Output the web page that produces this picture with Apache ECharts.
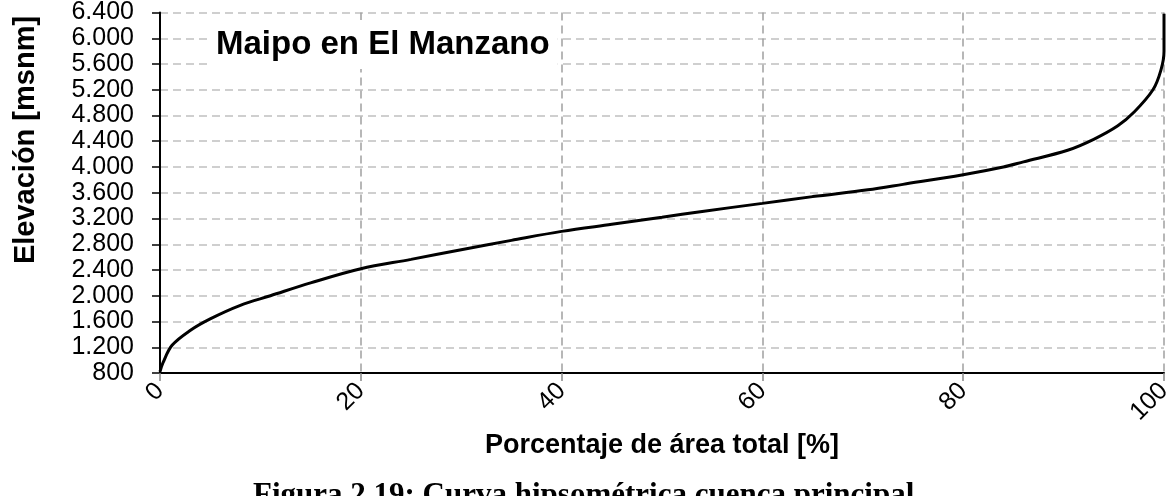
<!DOCTYPE html>
<html>
<head>
<meta charset="utf-8">
<script src="https://cdn.jsdelivr.net/npm/echarts@6/dist/echarts.min.js"></script>
<style>
  html, body { margin: 0; padding: 0; background: #fff; }
  #main { width: 1175px; height: 496px; }
</style>
</head>
<body>
<div id="main"></div>
<script>
// curva hipsometrica
var pctArea = [0, 0.3, 1.2, 3, 5, 8, 11, 15, 20, 25, 30, 35, 40, 45, 50, 54, 60, 65, 70.5, 74, 80, 84, 86, 90.4, 93, 95.4, 97, 98.9, 99.7, 100, 100];
var elevacion = [820, 960, 1230, 1460, 1640, 1850, 2000, 2200, 2420, 2565, 2715, 2860, 3000, 3110, 3220, 3310, 3435, 3540, 3645, 3730, 3880, 4000, 4080, 4260, 4430, 4640, 4850, 5200, 5510, 5800, 6380];

var xTicks = [0, 20, 40, 60, 80, 100];
var yMin = 800, yMax = 6400, yStep = 400;

function miles(v) {
  if (v < 1000) return String(v);
  return Math.floor(v / 1000) + '.' + String(v % 1000).padStart(3, '0');
}

var serie = pctArea.map(function (p, i) { return [p, elevacion[i]]; });

var chart = echarts.init(document.getElementById('main'));
chart.setOption({
  animation: false,
  backgroundColor: '#fff',
  textStyle: { fontFamily: 'Liberation Sans, Arial, sans-serif' },
  title: {
    text: 'Maipo en El Manzano',
    left: 208,
    top: 20,
    padding: [8, 8],
    backgroundColor: '#fff',
    textStyle: { fontSize: 33, fontWeight: 'bold', color: '#000' }
  },
  grid: { left: 160, right: 11, top: 9, bottom: 123 },
  xAxis: {
    type: 'value',
    min: xTicks[0],
    max: xTicks[xTicks.length - 1],
    interval: 20,
    name: 'Porcentaje de área total [%]',
    nameLocation: 'middle',
    nameGap: 46,
    nameTextStyle: { fontSize: 27, fontWeight: 'bold', color: '#000' },
    axisLine: { lineStyle: { color: '#000', width: 2 } },
    axisTick: { show: true, length: 8, lineStyle: { color: '#888', width: 1.5 } },
    axisLabel: { rotate: 45, fontSize: 25, color: '#000', margin: 14, showMinLabel: true, showMaxLabel: true },
    splitLine: { show: true, lineStyle: { color: '#a0a0a0', width: 1.5, type: [8, 5] } }
  },
  yAxis: {
    type: 'value',
    min: yMin,
    max: yMax,
    interval: yStep,
    axisLine: { show: true, lineStyle: { color: '#000', width: 2 } },
    axisTick: { show: true, length: 8, lineStyle: { color: '#000', width: 1.5 } },
    axisLabel: {
      fontSize: 25, color: '#000', margin: 26, formatter: miles,
      showMinLabel: true, showMaxLabel: true
    },
    splitLine: { show: true, lineStyle: { color: '#c0c0c0', width: 1.5, type: [8, 5] } }
  },
  graphic: [
    {
      type: 'text',
      x: 26, y: 140,
      rotation: Math.PI / 2,
      style: {
        text: 'Elevación [msnm]',
        font: 'bold 29px Liberation Sans',
        fill: '#000',
        align: 'center',
        verticalAlign: 'middle'
      }
    },
    {
      type: 'text',
      left: 253, top: 480,
      style: {
        text: 'Figura 2.19: Curva hipsométrica cuenca principal',
        font: 'bold 31px Liberation Serif',
        fill: '#000'
      }
    }
  ],
  series: [{
    type: 'line',
    data: serie,
    smooth: 0.35,
    showSymbol: false,
    lineStyle: { color: '#000', width: 3 }
  }]
});
</script>
</body>
</html>
